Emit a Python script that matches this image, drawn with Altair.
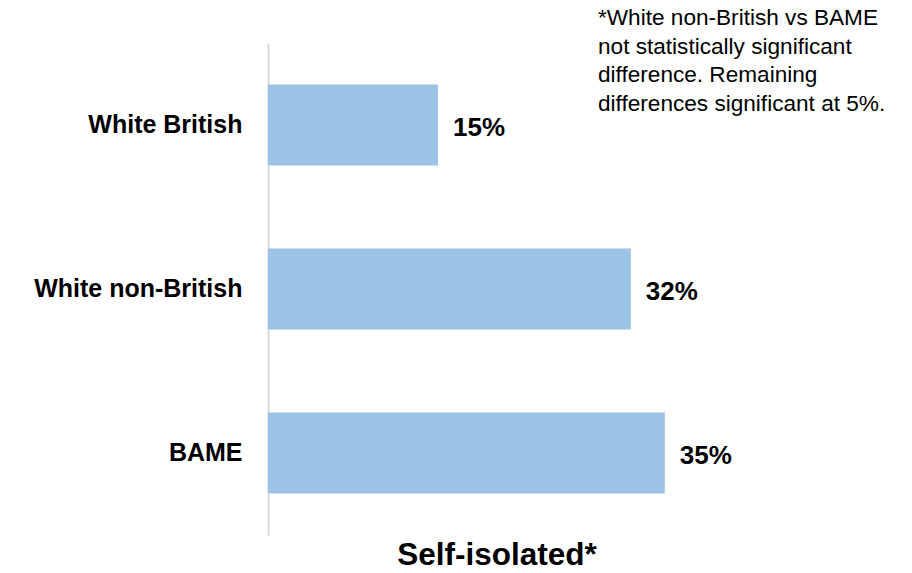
import altair as alt
import pandas as pd

categories = ["White British", "White non-British", "BAME"]
values = [15, 32, 35]
title_text = "Self-isolated*"
note_lines = [
    "*White non-British vs BAME",
    "not statistically significant",
    "difference. Remaining",
    "differences significant at 5%.",
]

df = pd.DataFrame({"group": categories, "value": values})
df["label"] = [f"{v}%" for v in values]

FONT = "Liberation Sans"

x_enc = alt.X("value:Q", scale=alt.Scale(domain=[0, 56.8], nice=False, zero=True), axis=None)
y_enc = alt.Y(
    "group:N",
    sort=categories,
    title=None,
    scale=alt.Scale(paddingInner=0.506, paddingOuter=0.253),
    axis=alt.Axis(
        labelFont=FONT,
        labelFontSize=25,
        labelFontWeight="bold",
        labelColor="#000000",
        labelPadding=26,
        ticks=False,
        grid=False,
        domain=True,
        domainColor="#d9d9d9",
        domainWidth=2,
        labelLimit=400,
    ),
)

bars = alt.Chart(df).mark_bar(color="#9DC3E6").encode(x=x_enc, y=y_enc)

labels = alt.Chart(df).mark_text(
    align="left", baseline="middle", dx=15, dy=3,
    font=FONT, fontSize=26, fontWeight="bold", color="#000000",
).encode(x=x_enc, y=y_enc, text="label:N")

title_df = pd.DataFrame({"t": [title_text]})
title = alt.Chart(title_df).mark_text(
    align="center", baseline="alphabetic",
    font=FONT, fontSize=31.5, fontWeight="bold", color="#000000",
).encode(x=alt.value(229), y=alt.value(522), text="t:N")

note_df = pd.DataFrame({"t": [note_lines]})
note = alt.Chart(note_df).mark_text(
    align="left", baseline="alphabetic", lineHeight=28.5,
    font=FONT, fontSize=22.6, color="#000000",
).encode(x=alt.value(330), y=alt.value(-18), text="t")

chart = alt.layer(bars, labels, title, note).properties(
    width=644, height=492,
    autosize=alt.AutoSizeParams(type="none"),
    padding={"left": 268, "top": 43, "right": 0, "bottom": 38},
    background="#ffffff",
).configure_view(stroke=None)

chart.save("out.html", embed_options={"renderer": "svg", "actions": False})
